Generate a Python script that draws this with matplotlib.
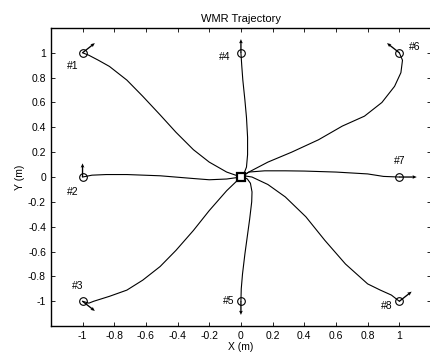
import numpy as np
import matplotlib
matplotlib.use("Agg")
import matplotlib.pyplot as plt

plt.rcParams['font.family'] = ['Liberation Sans', 'DejaVu Sans']

# start poses of the 8 runs
start_x = [-1, -1, -1, 0, 0, 1, 1, 1]
start_y = [1, 0, -1, 1, -1, 1, 0, -1]
heading_deg = [45, 90, -45, 90, -90, 135, 0, 45]
labels = ['#1', '#2', '#3', '#4', '#5', '#6', '#7', '#8']
label_x = [-1.06, -1.06, -1.03, -0.1, -0.08, 1.1, 1.0, 0.92]
label_y = [0.89, -0.12, -0.88, 0.97, -1.0, 1.05, 0.13, -1.04]

# trajectories
traj = {
    '#1': ([-1, -0.96, -0.90, -0.83, -0.72, -0.62, -0.51, -0.41, -0.30, -0.20, -0.09, 0],
           [1, 0.98, 0.94, 0.89, 0.78, 0.65, 0.50, 0.36, 0.22, 0.12, 0.04, 0]),
    '#2': ([-1, -0.94, -0.85, -0.72, -0.51, -0.3, -0.2, -0.09, 0],
           [0, 0.015, 0.02, 0.02, 0.01, -0.012, -0.022, -0.016, 0]),
    '#3': ([-1, -0.96, -0.93, -0.83, -0.72, -0.62, -0.51, -0.41, -0.30, -0.20, -0.09, 0],
           [-1, -1.015, -1.0, -0.96, -0.91, -0.83, -0.72, -0.59, -0.43, -0.27, -0.11, 0]),
    '#4': ([0, 0.005, 0.012, 0.025, 0.035, 0.042, 0.042, 0.035, 0.02, 0],
           [1, 0.9, 0.78, 0.62, 0.48, 0.32, 0.18, 0.08, 0.03, 0]),
    '#5': ([0, 0.002, 0.01, 0.025, 0.04, 0.055, 0.068, 0.07, 0.06, 0.04, 0.015, 0],
           [-1, -0.9, -0.78, -0.62, -0.48, -0.34, -0.2, -0.12, -0.05, -0.015, 0.0, 0]),
    '#6': ([1, 1.02, 1.01, 0.97, 0.89, 0.78, 0.64, 0.49, 0.32, 0.17, 0.05, 0],
           [1, 0.94, 0.84, 0.73, 0.60, 0.49, 0.41, 0.30, 0.20, 0.12, 0.04, 0]),
    '#7': ([1, 0.9, 0.8, 0.6, 0.4, 0.28, 0.15, 0.05, 0],
           [0, 0.005, 0.025, 0.04, 0.048, 0.05, 0.05, 0.04, 0]),
    '#8': ([1, 0.95, 0.88, 0.8, 0.66, 0.53, 0.41, 0.28, 0.17, 0.07, 0.02, 0],
           [-1, -0.95, -0.91, -0.86, -0.70, -0.51, -0.32, -0.16, -0.06, 0.0, 0.01, 0]),
}

fig = plt.figure(figsize=(4.31, 3.58), dpi=100)
ax = fig.add_axes([0.118, 0.089, 0.882, 0.833])

for name in labels:
    xs, ys = traj[name]
    ax.plot(xs, ys, color='black', lw=0.8, solid_joinstyle='round')

ax.plot(start_x, start_y, 'o', mfc='none', mec='black', ms=5.5, mew=0.8)
ax.plot([0], [0], 's', mfc='white', mec='black', ms=5.5, mew=1.6)

h = np.radians(heading_deg)
ax.quiver(start_x, start_y, 0.11 * np.cos(h), 0.11 * np.sin(h),
          angles='xy', scale_units='xy', scale=1, width=0.0035,
          headwidth=2.8, headlength=3.2, headaxislength=2.8, color='black')

for t, lx, ly in zip(labels, label_x, label_y):
    ax.text(lx, ly, t, fontsize=7.5, ha='center', va='center')

ax.set_xlim(-1.2, 1.2)
ax.set_ylim(-1.2, 1.2)
ticks = [-1, -0.8, -0.6, -0.4, -0.2, 0, 0.2, 0.4, 0.6, 0.8, 1]
tick_labels = ['-1', '-0.8', '-0.6', '-0.4', '-0.2', '0', '0.2', '0.4', '0.6', '0.8', '1']
ax.set_xticks(ticks)
ax.set_xticklabels(tick_labels)
ax.set_yticks(ticks)
ax.set_yticklabels(tick_labels)
ax.tick_params(direction='in', top=True, right=True, labelsize=7.5, length=3, width=0.6)
for s in ax.spines.values():
    s.set_linewidth(1.0)

ax.set_title('WMR Trajectory', fontsize=8, pad=4)
ax.set_xlabel('X (m)', fontsize=7.5, labelpad=1)
ax.set_ylabel('Y (m)', fontsize=7.5, labelpad=2)

fig.savefig('out.png', dpi=100)
